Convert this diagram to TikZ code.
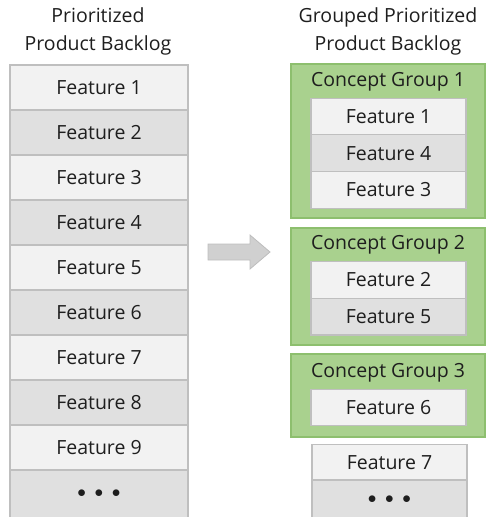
\documentclass[tikz,border=0pt]{standalone}
\usepackage{fontspec}
\setmainfont{Open Sans}
\definecolor{rowlight}{HTML}{F2F2F2}
\definecolor{rowdark}{HTML}{E0E0E0}
\definecolor{rowline}{HTML}{BFBFBF}
\definecolor{grpfill}{HTML}{A9D18E}
\definecolor{grpline}{HTML}{8DBF6E}
\definecolor{txt}{HTML}{1E1E1E}
\definecolor{arrowc}{HTML}{D0D0D0}
\definecolor{arrowl}{HTML}{BDBDBD}
\begin{document}
\begin{tikzpicture}[x=1pt,y=-1pt,
  every node/.style={text=txt,font=\fontsize{19.5}{22}\selectfont,inner sep=0pt},
  rowL/.style={draw=rowline,line width=1.2pt,fill=rowlight,minimum width=178,minimum height=45},
  rowD/.style={rowL,fill=rowdark},
  irowL/.style={draw=rowline,line width=1.2pt,fill=rowlight,minimum width=155,minimum height=36.7},
  irowD/.style={irowL,fill=rowdark},
  grp/.style={draw=grpline,line width=1.2pt,fill=grpfill,minimum width=194},
  dots/.style={font=\fontsize{16}{18}\selectfont},
  title/.style={align=center,font=\fontsize{19.5}{28}\selectfont}
]
\useasboundingbox (0,0) rectangle (487,517);
% titles
\node[title] (tl) at (98,31) {Prioritized\\Product Backlog};
\node[title] (tr) at (388,31) {Grouped Prioritized\\Product Backlog};
% left column
\node[rowL] (l1) at (99,87.5) {Feature 1};
\node[rowD] (l2) at (99,132.5) {Feature 2};
\node[rowL] (l3) at (99,177.5) {Feature 3};
\node[rowD] (l4) at (99,222.5) {Feature 4};
\node[rowL] (l5) at (99,267.5) {Feature 5};
\node[rowD] (l6) at (99,312.5) {Feature 6};
\node[rowL] (l7) at (99,357.5) {Feature 7};
\node[rowD] (l8) at (99,402.5) {Feature 8};
\node[rowL] (l9) at (99,447.5) {Feature 9};
\node[rowD,dots,minimum height=48] (l10) at (99,494) {$\bullet\;\bullet\;\bullet$};
% arrow
\draw[draw=arrowl,fill=arrowc,line width=0.8pt]
  (208,244) -- (250,244) -- (250,235) -- (270,252) -- (250,269) -- (250,260) -- (208,260) -- cycle;
% group 1
\node[grp,minimum height=154] (g1) at (388,141) {};
\node (g1t) at (388,82) {Concept Group 1};
\node[irowL] (r1) at (388.5,116.5) {Feature 1};
\node[irowD] (r4) at (388.5,153.2) {Feature 4};
\node[irowL] (r3) at (388.5,189.9) {Feature 3};
% group 2
\node[grp,minimum height=117] (g2) at (388,286.5) {};
\node (g2t) at (388,245) {Concept Group 2};
\node[irowL] (r2) at (388.5,280) {Feature 2};
\node[irowD] (r5) at (388.5,316.7) {Feature 5};
% group 3
\node[grp,minimum height=83] (g3) at (388,395.5) {};
\node (g3t) at (388,373) {Concept Group 3};
\node[irowL] (r6) at (388.5,407.5) {Feature 6};
% loose
\node[irowL] (r7) at (389.5,462.5) {Feature 7};
\node[irowD,dots,minimum height=40] (r8) at (389.5,500) {$\bullet\;\bullet\;\bullet$};
\end{tikzpicture}
\end{document}
